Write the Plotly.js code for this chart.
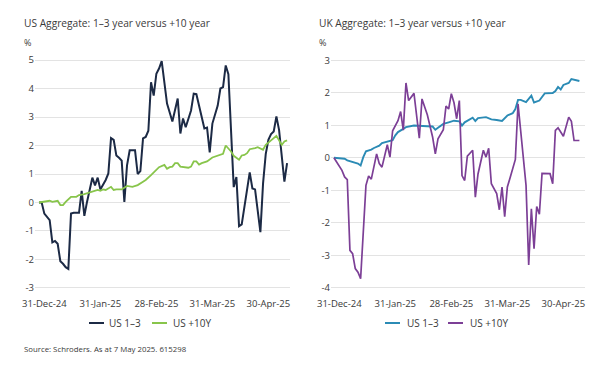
<!DOCTYPE html>
<html>
<head>
<meta charset="utf-8">
<script src="https://cdn.plot.ly/plotly-3.0.1.min.js"></script>
<style>
html,body{margin:0;padding:0;background:#fff;}
#chart{width:600px;height:367px;}
</style>
</head>
<body>
<div id="chart"></div>
<script>
// ---- data (x = trading-day index since 31-Dec-24) ----
const tickIdx = [2, 23, 44, 65, 86];
const tickLabels = ["31-Dec-24", "31-Jan-25", "28-Feb-25", "31-Mar-25", "30-Apr-25"];

const leftTitle = "US Aggregate: 1\u20133 year versus +10 year";
const rightTitle = "UK Aggregate: 1\u20133 year versus +10 year";
const seriesNames = ["US 1\u20133", "US +10Y"];
const sourceText = "Source: Schroders. As at 7 May 2025. 615298";

const leftYTicks = [-3, -2, -1, 0, 1, 2, 3, 4, 5];
const leftYLabels = ["-3", "-2", "-1", "0", "1", "2", "3", "4", "5"];
const rightYTicks = [-4, -3, -2, -1, 0, 1, 2, 3];
const rightYLabels = ["-4", "-3", "-2", "-1", "0", "1", "2", "3"];

// US Aggregate, US 1-3
const usShortX = [0,1,2,3,4,5,6,7,8,9,10,11,12,13,15,16,17,18,19,20,21,22,23,24,25,26,27,28,29,30,31,32,33,34,36,37,38,39,40,41,42,43,44,45,46,48,50,52,53,54,55,57,58,59,61,62,63,64,65,67,68,69,70,71,73,74,75,76,79,80,81,83,84,85,86,87,88,89,90,92,93];
const usShortY = [0,0,-0.39,-0.5,-0.62,-1.4,-1.35,-1.45,-2.06,-2.15,-2.27,-2.33,-0.39,-0.36,-0.36,0.41,-0.47,0.02,0.44,0.87,0.6,0.87,0.46,0.61,0.79,1.02,2.26,2.2,1.65,1.57,1.47,0.02,1.3,1.83,1.83,1.0,1.1,2.25,2.3,2.52,4.22,3.75,4.52,4.7,4.96,3.47,2.84,3.65,2.42,2.95,2.64,3.23,3.82,3.8,2.98,2.6,2.63,1.76,2.77,3.4,4.0,4.05,4.81,4.5,0.54,0.89,-0.83,-0.77,1.06,0.49,0.46,-1.04,0.67,1.7,2.2,2.4,2.49,3.02,2.55,0.73,1.38];

// US Aggregate, US +10Y
const usLongX = [0,2,4,5,7,8,9,10,12,14,15,17,18,20,22,23,24,25,27,28,29,31,32,33,35,37,39,40,42,43,44,45,47,48,49,50,51,52,53,55,56,57,58,59,60,61,63,65,67,68,69,70,71,72,73,75,76,77,78,79,81,82,84,85,87,89,91,92,93];
const usLongY = [0,0.02,0.06,0.02,0.06,-0.09,-0.09,0.02,0.2,0.2,0.26,0.29,0.32,0.4,0.44,0.41,0.46,0.44,0.55,0.44,0.46,0.46,0.52,0.58,0.55,0.61,0.73,0.79,0.96,1.05,1.14,1.24,1.32,1.18,1.24,1.26,1.38,1.38,1.26,1.24,1.22,1.26,1.44,1.44,1.33,1.38,1.44,1.58,1.64,1.67,1.71,2.0,1.91,1.79,1.64,1.5,1.65,1.67,1.73,1.87,1.91,1.94,1.85,2.02,2.18,2.34,2.02,2.14,2.18];

// UK Aggregate, US 1-3
const ukShortX = [0,4,5,7,9,10,11,12,14,15,17,18,20,22,23,24,26,27,30,32,35,37,38,39,41,43,45,47,48,49,51,52,53,54,57,59,61,63,65,67,68,69,70,72,74,75,77,79,82,83,84,85,86,88,89,91,92];
const ukShortY = [0,-0.03,-0.08,-0.13,-0.18,-0.24,0.02,0.2,0.25,0.3,0.37,0.45,0.5,0.54,0.69,0.79,0.89,0.94,0.99,0.99,0.97,0.96,0.86,0.92,1.04,1.09,1.14,1.12,0.99,1.09,1.17,1.23,1.13,1.22,1.25,1.18,1.16,1.13,1.3,1.37,1.5,1.78,1.78,1.71,1.91,1.7,1.76,1.98,1.99,2.05,2.18,2.1,2.24,2.3,2.42,2.38,2.36];

// UK Aggregate, US +10Y
const ukLongX = [0,3,4,5,6,7,8,9,10,12,13,14,16,17,18,20,21,22,24,25,26,27,28,30,32,33,35,37,38,39,41,42,43,44,45,46,47,48,49,50,52,53,54,56,57,58,59,61,62,63,64,65,66,68,69,72,73,74,75,76,77,78,81,82,83,84,86,88,89,90,92];
const ukLongY = [0,-0.39,-0.59,-0.67,-2.85,-2.95,-3.41,-3.52,-3.72,-0.85,-0.56,-0.66,0.12,-0.18,-0.29,0.4,0.02,0.83,1.14,1.42,0.85,2.3,1.76,1.98,0.6,1.81,1.32,0.63,0.12,0.58,0.86,1.59,1.5,1.97,1.69,1.2,1.76,-0.55,-0.7,0.05,0.23,-1.21,-0.5,0.23,0.02,0.29,-0.8,-1.1,-1.6,-0.9,-1.81,-0.9,-0.62,-0.05,1.66,-0.85,-3.3,-1.57,-2.8,-1.5,-1.74,-0.48,-0.49,-0.8,0.84,0.92,0.66,1.25,1.12,0.53,0.53];

// ---- styles ----
const C = {navy:"#1c2a45", green:"#88c54b", teal:"#2b8bb5", purple:"#7c3f96", grid:"#e3e3e3", text:"#3a3a3a"};
const FONT = "Open Sans, Noto Sans, sans-serif";
const W = 600, H = 367;
const px = v => v / W;
const py = v => (H - v) / H;

const traces = [
  {x: usShortX, y: usShortY, name: seriesNames[0], xaxis:"x", yaxis:"y", mode:"lines", line:{color:C.navy, width:2}, showlegend:false, hoverinfo:"skip"},
  {x: usLongX, y: usLongY, name: seriesNames[1], xaxis:"x", yaxis:"y", mode:"lines", line:{color:C.green, width:1.8}, showlegend:false, hoverinfo:"skip"},
  {x: ukShortX, y: ukShortY, name: seriesNames[0], xaxis:"x2", yaxis:"y2", mode:"lines", line:{color:C.teal, width:1.9}, showlegend:false, hoverinfo:"skip"},
  {x: ukLongX, y: ukLongY, name: seriesNames[1], xaxis:"x2", yaxis:"y2", mode:"lines", line:{color:C.purple, width:1.7}, showlegend:false, hoverinfo:"skip"}
];

const xCommon = {
  tickmode:"array", tickvals: tickIdx, ticktext: tickLabels,
  showgrid:false, zeroline:false, showline:false,
  ticks:"outside", ticklen:5, tickcolor:"rgba(0,0,0,0)",
  tickfont:{family:FONT, size:9.5, color:C.text}, fixedrange:true
};
const yCommon = {
  tickmode:"array", showgrid:true, gridcolor:C.grid, gridwidth:1,
  zeroline:false, showline:false, ticks:"",
  tickfont:{family:FONT, size:9.5, color:C.text}, fixedrange:true
};
const yDomain = [py(289.4), py(58.6)];

const annotations = [
  {text:leftTitle, x:px(22), y:py(23), xref:"paper", yref:"paper", xanchor:"left", yanchor:"middle", showarrow:false, font:{family:FONT, size:10.2, color:C.text}},
  {text:rightTitle, x:px(317), y:py(23), xref:"paper", yref:"paper", xanchor:"left", yanchor:"middle", showarrow:false, font:{family:FONT, size:10.2, color:C.text}},
  {text:"%", x:px(22), y:py(43), xref:"paper", yref:"paper", xanchor:"left", yanchor:"middle", showarrow:false, font:{family:FONT, size:9, color:C.text}},
  {text:"%", x:px(317), y:py(43), xref:"paper", yref:"paper", xanchor:"left", yanchor:"middle", showarrow:false, font:{family:FONT, size:9, color:C.text}},
  {text:sourceText, x:px(22), y:py(349), xref:"paper", yref:"paper", xanchor:"left", yanchor:"middle", showarrow:false, font:{family:FONT, size:7.8, color:C.text}},
  // custom legends
  {text:seriesNames[0], x:px(107), y:py(323), xref:"paper", yref:"paper", xanchor:"left", yanchor:"middle", showarrow:false, font:{family:FONT, size:10, color:C.text}},
  {text:seriesNames[1], x:px(171), y:py(323), xref:"paper", yref:"paper", xanchor:"left", yanchor:"middle", showarrow:false, font:{family:FONT, size:10, color:C.text}},
  {text:seriesNames[0], x:px(405), y:py(323), xref:"paper", yref:"paper", xanchor:"left", yanchor:"middle", showarrow:false, font:{family:FONT, size:10, color:C.text}},
  {text:seriesNames[1], x:px(468), y:py(323), xref:"paper", yref:"paper", xanchor:"left", yanchor:"middle", showarrow:false, font:{family:FONT, size:10, color:C.text}}
];
const shapes = [
  {type:"line", xref:"paper", yref:"paper", x0:px(89), x1:px(104), y0:py(323), y1:py(323), line:{color:C.navy, width:2}},
  {type:"line", xref:"paper", yref:"paper", x0:px(152), x1:px(167), y0:py(323), y1:py(323), line:{color:C.green, width:2}},
  {type:"line", xref:"paper", yref:"paper", x0:px(385), x1:px(400), y0:py(323), y1:py(323), line:{color:C.teal, width:2}},
  {type:"line", xref:"paper", yref:"paper", x0:px(448), x1:px(463), y0:py(323), y1:py(323), line:{color:C.purple, width:2}}
];

const layout = {
  width:W, height:H,
  margin:{l:0, r:0, t:0, b:0},
  paper_bgcolor:"#fff", plot_bgcolor:"#fff",
  font:{family:FONT, color:C.text},
  xaxis: Object.assign({}, xCommon, {domain:[px(35), px(290)], range:[-1.5, 94.1], anchor:"y"}),
  yaxis: Object.assign({}, yCommon, {domain:yDomain, range:[-3.05, 5.05], tickvals:leftYTicks, ticktext:leftYLabels, anchor:"x"}),
  xaxis2: Object.assign({}, xCommon, {domain:[px(331), px(585)], range:[-1.1, 94.1], anchor:"y2"}),
  yaxis2: Object.assign({}, yCommon, {domain:yDomain, range:[-4.05, 3.05], tickvals:rightYTicks, ticktext:rightYLabels, anchor:"x2"}),
  annotations: annotations,
  shapes: shapes,
  showlegend:false
};

Plotly.newPlot("chart", traces, layout, {staticPlot:true, displayModeBar:false});
</script>
</body>
</html>
